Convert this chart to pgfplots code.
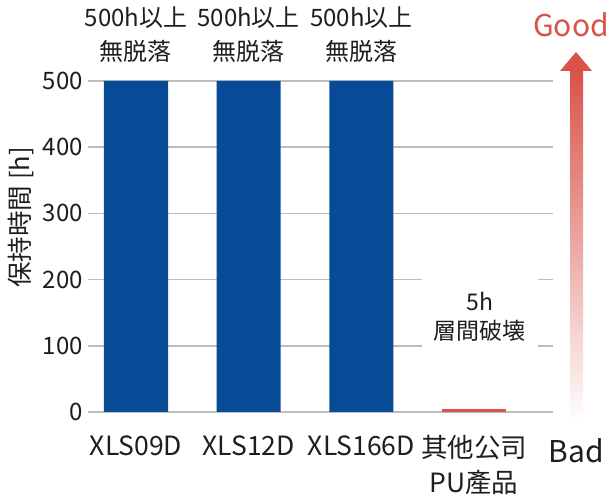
\documentclass[border=0pt]{standalone}
\usepackage{pgfplots}
\pgfplotsset{compat=1.18}
\usetikzlibrary{calc}
\usepackage{fontspec}
\setmainfont{Noto Sans CJK JP}

\definecolor{barblue}{HTML}{074A96}
\definecolor{barred}{HTML}{D9534A}
\definecolor{gridgray}{HTML}{BDBDBD}
\definecolor{txt}{HTML}{1E1E1E}

\begin{document}
\begin{tikzpicture}[x=1bp,y=1bp]
\begin{axis}[
  scale only axis, width=465bp, height=331bp,
  xmin=-0.426, xmax=3.701, ymin=0, ymax=500,
  ybar, bar width=64bp, bar shift=0pt,
  clip=false,
  axis line style={draw=none},
  major tick style={draw=none},
  ymajorgrids,
  grid style={gridgray, line width=1.5bp},
  ytick={0,100,...,500},
  xtick={0,1,2,3},
  xticklabels={XLS09D,XLS12D,XLS166D,{其他公司\\PU產品}},
  /pgf/number format/assume math mode=true,
  yticklabel style={font=\fontsize{24bp}{28bp}\selectfont, text=txt,
    anchor=east, inner sep=0pt, xshift=-5bp},
  xticklabel style={font=\fontsize{26.5bp}{35bp}\selectfont, text=txt,
    align=center, anchor=north, inner sep=0pt, yshift=-19bp},
  ylabel={保持時間 [h]},
  ylabel style={at={(rel axis cs:-0.144,0.588)}, anchor=center,
    font=\fontsize{25.5bp}{30bp}\selectfont, text=txt},
]
\addplot[fill=barblue, draw=none] coordinates {(0,500) (1,500) (2,500)};
\addplot[fill=barred, draw=none] coordinates {(3,5)};

\node[anchor=south, align=center, inner sep=0pt, yshift=18bp, text=txt,
  font=\fontsize{24bp}{34bp}\selectfont] at (axis cs:0,500) {500h以上\\無脱落};
\node[anchor=south, align=center, inner sep=0pt, yshift=18bp, text=txt,
  font=\fontsize{24bp}{34bp}\selectfont] at (axis cs:1,500) {500h以上\\無脱落};
\node[anchor=south, align=center, inner sep=0pt, yshift=18bp, text=txt,
  font=\fontsize{24bp}{34bp}\selectfont] at (axis cs:2,500) {500h以上\\無脱落};
\node[fill=white, align=center, inner xsep=12bp, inner ysep=15bp, text=txt,
  font=\fontsize{23bp}{29bp}\selectfont] at (axis cs:3.053,143.5) {5h\\層間破壊};
\coordinate (bl) at (rel axis cs:0,0);
\end{axis}

\begin{scope}[shift={($(bl)-(88,84)$)}]
% Good / Bad arrow
\shade[top color=barred, bottom color=white] (570,425) rectangle (583,73);
\fill[barred] (560,425) -- (576,444) -- (592,425) -- cycle;
\node[anchor=base, inner sep=0pt, text=barred, font=\fontsize{30bp}{34bp}\selectfont]
  at (571,459) {Good};
\node[anchor=base, inner sep=0pt, text=txt, font=\fontsize{30bp}{34bp}\selectfont]
  at (576,33) {Bad};
\pgfresetboundingbox
\useasboundingbox (0,0) rectangle (612,496);
\end{scope}
\end{tikzpicture}
\end{document}
